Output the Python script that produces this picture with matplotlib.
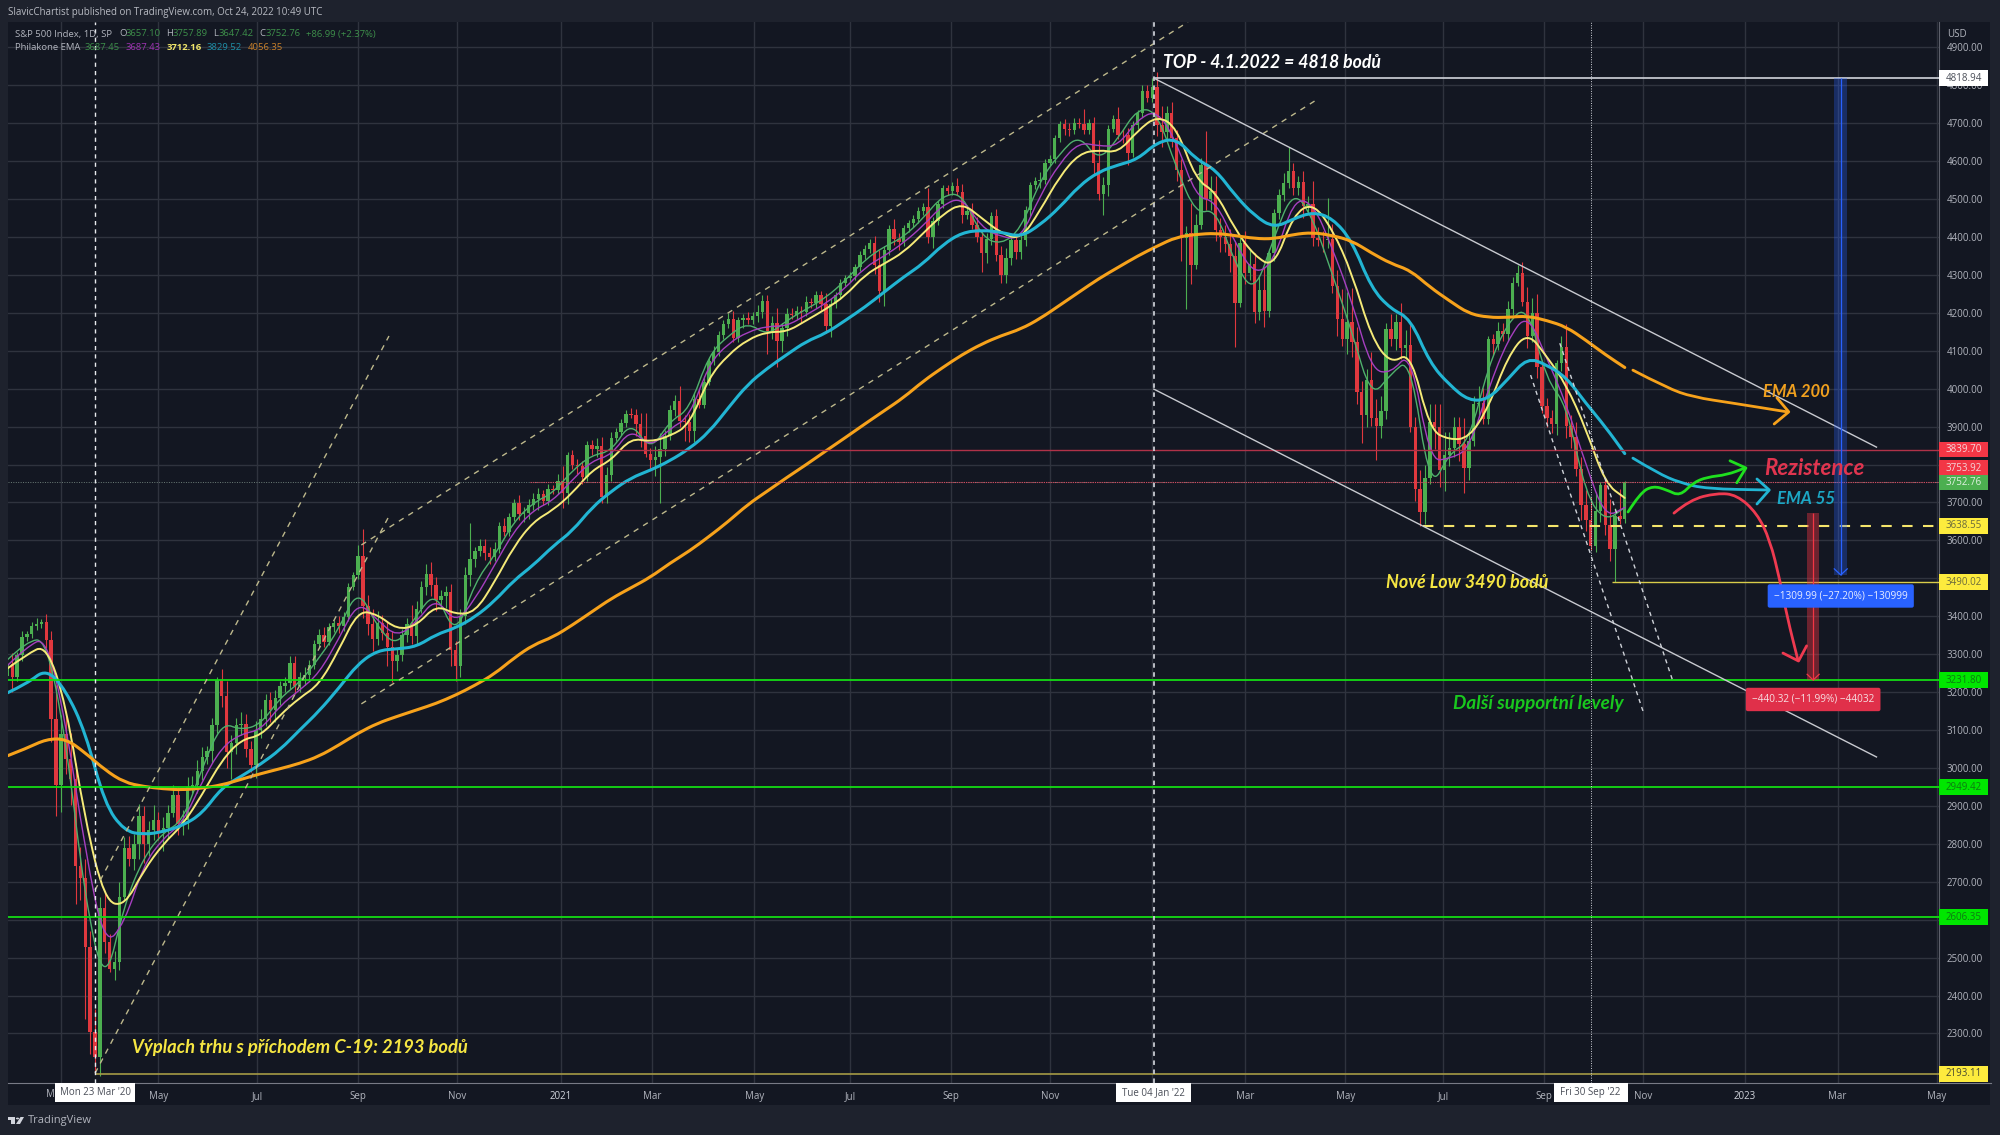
import pandas as pd
import matplotlib
matplotlib.use("Agg")
import matplotlib.pyplot as plt
from matplotlib.patches import Rectangle, Polygon, Circle, PathPatch
from matplotlib.path import Path

ORIGIN = pd.Timestamp("2020-03-23")

first_open = 3243
# 3 day candles, first one on 29 Jan 2020
closes = [
    3273, 3240, 3297, 3345, 3352, 3374, 3380, 3386, 3337, 3128,
    2954, 3090, 3023, 2972, 2741, 2711, 2529, 2305, 2237, 2630,
    2541, 2471, 2488, 2660, 2790, 2761, 2800, 2874, 2799, 2836,
    2863, 2830, 2842, 2882, 2929, 2852, 2864, 2950, 2955, 2992,
    3030, 3044, 3112, 3232, 3190, 3041, 3067, 3113, 3117, 3050,
    3009, 3100, 3130, 3179, 3152, 3185, 3215, 3224, 3276, 3215,
    3239, 3246, 3271, 3327, 3351, 3333, 3373, 3381, 3375, 3397,
    3478, 3508, 3560, 3426, 3380, 3339, 3383, 3357, 3320, 3281,
    3298, 3351, 3380, 3348, 3419, 3477, 3512, 3483, 3443, 3453,
    3465, 3310, 3270, 3400, 3509, 3550, 3573, 3585, 3568, 3557,
    3577, 3638, 3622, 3662, 3699, 3669, 3672, 3694, 3709, 3722,
    3703, 3735, 3732, 3756, 3726, 3824, 3799, 3795, 3768, 3851,
    3841, 3849, 3714, 3773, 3871, 3887, 3909, 3934, 3932, 3906,
    3876, 3829, 3811, 3819, 3842, 3875, 3943, 3968, 3915, 3913,
    3889, 3974, 3958, 4019, 4073, 4097, 4141, 4170, 4185, 4134,
    4180, 4186, 4181, 4192, 4201, 4232, 4152, 4173, 4127, 4159,
    4197, 4195, 4204, 4202, 4229, 4227, 4247, 4223, 4166, 4224,
    4246, 4280, 4291, 4297, 4320, 4352, 4369, 4384, 4327, 4258,
    4367, 4422, 4395, 4387, 4423, 4436, 4448, 4468, 4479, 4400,
    4442, 4486, 4528, 4522, 4535, 4520, 4458, 4469, 4432, 4401,
    4357, 4395, 4455, 4352, 4300, 4345, 4391, 4361, 4391, 4471,
    4536, 4549, 4551, 4596, 4605, 4660, 4697, 4685, 4682, 4700,
    4697, 4682, 4701, 4595, 4513, 4538, 4686, 4712, 4669, 4668,
    4621, 4696, 4726, 4786, 4766, 4796, 4696, 4677, 4726, 4662,
    4577, 4398, 4410, 4327, 4432, 4589, 4500, 4521, 4419, 4401,
    4381, 4349, 4226, 4385, 4306, 4329, 4202, 4260, 4204, 4358,
    4463, 4511, 4543, 4575, 4530, 4545, 4481, 4488, 4397, 4392,
    4391, 4394, 4272, 4183, 4132, 4175, 4123, 3991, 3930, 4023,
    3923, 3901, 3941, 4158, 4132, 4176, 4108, 4115, 3900, 3735,
    3674, 3765, 3911, 3900, 3785, 3825, 3845, 3900, 3854, 3790,
    3863, 3960, 3962, 3921, 4130, 4118, 4152, 4145, 4210, 4280,
    4305, 4228, 4138, 4199, 4057, 3955, 3924, 3908, 4067, 4110,
    3901, 3873, 3789, 3693, 3655, 3585, 3678, 3745, 3640, 3577,
    3665, 3657, 3752.76,
]
wick_up = [
    15, 30, 10, 15, 10, 10, 15, 8, 20, 25,
    90, 50, 60, 70, 40, 50, 50, 40, 60, 30,
    40, 20, 30, 40, 28, 30, 25, 30, 25, 25,
    40, 20, 30, 20, 25, 20, 25, 25, 25, 30,
    25, 15, 20, 8, 30, 40, 20, 20, 30, 25,
    20, 25, 25, 15, 20, 20, 15, 15, 20, 20,
    15, 20, 15, 10, 15, 20, 10, 10, 20, 15,
    10, 10, 28, 70, 30, 40, 30, 20, 30, 40,
    15, 15, 15, 50, 20, 15, 25, 30, 20, 15,
    15, 20, 25, 20, 20, 95, 10, 20, 20, 15,
    20, 10, 20, 10, 10, 20, 15, 15, 15, 15,
    10, 15, 10, 20, 40, 10, 15, 15, 15, 10,
    15, 20, 25, 20, 15, 10, 10, 10, 15, 15,
    30, 60, 15, 30, 40, 15, 15, 15, 40, 15,
    20, 15, 25, 15, 10, 15, 10, 10, 15, 20,
    10, 10, 15, 10, 20, 15, 15, 20, 40, 15,
    15, 15, 15, 15, 15, 10, 10, 10, 30, 15,
    10, 10, 10, 10, 10, 10, 10, 10, 20, 40,
    10, 10, 25, 15, 10, 10, 10, 10, 10, 50,
    10, 10, 10, 10, 10, 20, 20, 15, 20, 20,
    15, 15, 10, 20, 25, 25, 15, 15, 15, 10,
    10, 10, 20, 10, 10, 10, 10, 15, 15, 15,
    15, 40, 10, 15, 60, 20, 10, 10, 30, 15,
    20, 10, 10, 15, 15, 23, 40, 50, 20, 30,
    20, 30, 20, 80, 30, 20, 90, 40, 40, 30,
    30, 40, 40, 20, 30, 40, 30, 40, 60, 10,
    10, 15, 25, 62, 20, 15, 30, 20, 60, 30,
    25, 110, 40, 40, 80, 80, 90, 40, 30, 30,
    75, 50, 40, 15, 40, 20, 50, 40, 60, 25,
    50, 35, 50, 50, 60, 60, 40, 25, 25, 70,
    20, 20, 45, 40, 10, 15, 25, 20, 20, 15,
    20, 30, 40, 40, 50, 20, 20, 20, 10, 30,
    60, 30, 40, 30, 40, 60, 50, 10, 20, 70,
    20, 70, 5,
]
wick_down = [
    10, 40, 10, 15, 10, 10, 10, 10, 20, 60,
    80, 70, 40, 70, 100, 60, 190, 60, 44, 50,
    30, 10, 30, 20, 10, 20, 30, 40, 50, 30,
    25, 20, 50, 30, 10, 30, 30, 25, 15, 20,
    25, 20, 30, 20, 30, 40, 70, 30, 25, 20,
    20, 35, 20, 20, 30, 30, 20, 15, 15, 20,
    15, 20, 15, 10, 10, 15, 10, 15, 20, 15,
    10, 10, 10, 30, 30, 30, 15, 20, 50, 55,
    25, 15, 20, 20, 20, 10, 20, 30, 30, 20,
    30, 40, 40, 30, 20, 30, 20, 15, 20, 20,
    10, 10, 10, 10, 10, 15, 20, 15, 15, 30,
    10, 10, 10, 10, 40, 30, 10, 20, 20, 10,
    15, 20, 15, 15, 15, 10, 10, 10, 10, 30,
    30, 10, 25, 40, 120, 20, 10, 15, 15, 50,
    30, 30, 10, 10, 10, 10, 10, 10, 10, 10,
    10, 20, 10, 10, 15, 15, 60, 20, 70, 30,
    20, 10, 10, 30, 10, 15, 15, 15, 20, 30,
    10, 10, 10, 10, 10, 10, 10, 10, 25, 30,
    40, 15, 15, 20, 10, 10, 10, 10, 10, 15,
    30, 10, 10, 10, 10, 10, 20, 10, 10, 15,
    50, 25, 15, 15, 20, 20, 20, 20, 20, 15,
    15, 10, 20, 10, 10, 10, 10, 15, 15, 10,
    10, 10, 10, 30, 15, 55, 30, 10, 10, 20,
    30, 10, 10, 10, 10, 10, 30, 40, 20, 25,
    30, 60, 188, 50, 10, 10, 30, 30, 30, 40,
    20, 40, 115, 10, 30, 20, 30, 20, 40, 15,
    20, 15, 15, 15, 20, 20, 30, 15, 20, 15,
    30, 20, 20, 45, 20, 40, 40, 30, 72, 30,
    20, 90, 30, 20, 20, 30, 30, 30, 15, 30,
    36, 30, 15, 60, 45, 55, 30, 25, 45, 65,
    30, 15, 35, 15, 15, 30, 15, 20, 20, 15,
    10, 10, 30, 15, 30, 20, 25, 25, 30, 20,
    30, 30, 20, 40, 30, 10, 15, 30, 25, 30,
    87, 15, 10,
]

# EMAs read every 12 days, first value on 29 Jan 2020
ema_200 = [
    3032, 3052, 3076, 3077, 3040, 2995, 2962, 2951, 2945, 2942, 2947, 2955,
    2970, 2985, 2998, 3012, 3031, 3060, 3092, 3118, 3136, 3153, 3170, 3192,
    3218, 3248, 3290, 3325, 3345, 3377, 3412, 3447, 3475, 3503, 3540, 3572,
    3610, 3650, 3695, 3730, 3766, 3800, 3836, 3871, 3907, 3942, 3977, 4020,
    4056, 4090, 4118, 4140, 4157, 4185, 4220, 4255, 4290, 4320, 4350, 4376,
    4400, 4407, 4410, 4404, 4396, 4395, 4407, 4412, 4404, 4390, 4358, 4330,
    4312, 4268, 4232, 4198, 4188, 4188, 4192, 4180, 4163, 4128, 4090, 4056,
]
ema_55 = [
    3198, 3222, 3262, 3205, 3095, 2905, 2834, 2824, 2832, 2848, 2880, 2948,
    2978, 3010, 3048, 3100, 3150, 3210, 3275, 3310, 3314, 3320, 3352, 3369,
    3398, 3440, 3495, 3535, 3585, 3625, 3687, 3730, 3765, 3785, 3810, 3842,
    3885, 3950, 4012, 4054, 4090, 4125, 4146, 4180, 4215, 4255, 4295, 4330,
    4380, 4412, 4418, 4413, 4400, 4432, 4478, 4535, 4572, 4590, 4605, 4650,
    4660, 4605, 4578, 4510, 4456, 4424, 4448, 4466, 4450, 4390, 4265, 4210,
    4185, 4068, 4010, 3968, 3972, 4025, 4082, 4063, 4030, 3962, 3900, 3829,
]
ema_yellow = [
    3262, 3300, 3325, 3170, 2860, 2650, 2635, 2730, 2800, 2850, 2930, 3020,
    3075, 3085, 3140, 3185, 3220, 3310, 3415, 3405, 3365, 3375, 3430, 3405,
    3410, 3490, 3585, 3650, 3680, 3725, 3785, 3812, 3870, 3860, 3875, 3905,
    4030, 4090, 4130, 4150, 4150, 4180, 4210, 4245, 4300, 4330, 4360, 4410,
    4460, 4490, 4450, 4410, 4393, 4470, 4560, 4620, 4630, 4622, 4680, 4720,
    4690, 4550, 4520, 4420, 4350, 4320, 4460, 4490, 4420, 4305, 4135, 4065,
    4098, 3891, 3865, 3870, 3950, 4085, 4150, 4085, 4010, 3895, 3750, 3712,
]
ema_purple = [
    3270, 3320, 3345, 3120, 2780, 2530, 2590, 2745, 2815, 2855, 2965, 3055,
    3090, 3100, 3165, 3205, 3250, 3340, 3440, 3390, 3345, 3385, 3450, 3380,
    3445, 3535, 3625, 3680, 3705, 3760, 3810, 3825, 3895, 3845, 3895, 3925,
    4065, 4120, 4150, 4165, 4165, 4195, 4225, 4265, 4320, 4350, 4385, 4430,
    4485, 4505, 4425, 4400, 4395, 4510, 4595, 4650, 4640, 4640, 4710, 4735,
    4650, 4505, 4495, 4385, 4300, 4335, 4500, 4490, 4370, 4230, 4050, 4040,
    4100, 3810, 3815, 3840, 4000, 4130, 4200, 4080, 3960, 3800, 3660, 3687,
]
ema_green = [
    3285, 3335, 3340, 3075, 2650, 2420, 2640, 2765, 2830, 2860, 3000, 3120,
    3100, 3115, 3185, 3225, 3290, 3365, 3475, 3370, 3320, 3405, 3465, 3345,
    3490, 3560, 3650, 3700, 3725, 3785, 3825, 3835, 3915, 3835, 3915, 3945,
    4090, 4140, 4175, 4140, 4180, 4210, 4240, 4285, 4340, 4375, 4400, 4450,
    4510, 4515, 4400, 4380, 4420, 4550, 4620, 4670, 4600, 4660, 4740, 4730,
    4580, 4460, 4475, 4330, 4250, 4400, 4525, 4450, 4300, 4150, 3975, 4040,
    4080, 3730, 3830, 3860, 4060, 4175, 4220, 4020, 3960, 3720, 3650, 3687,
]

# hand drawn curves, (days after 23 Mar 2020, price)
orange_days = [947, 968, 984, 1008.6, 1042]
orange_prices = [4049, 4002, 3978, 3962, 3939]
orange_head_days = [1035.7, 1043, 1034]
orange_head_prices = [3976, 3939, 3907]
cyan_days = [947, 962, 976, 992.6, 1029.6]
cyan_prices = [3817, 3778, 3752, 3736, 3733]
cyan_head_days = [1023.4, 1031, 1023.4]
cyan_head_prices = [3762, 3733, 3696]
green_days = [944, 951.4, 959.4, 968, 976, 984, 992.6, 1005, 1016]
green_prices = [3675, 3725, 3744, 3733, 3717, 3752, 3767, 3773, 3791]
green_head_days = [1006.8, 1016.6, 1011]
green_head_prices = [3810, 3791, 3752]
red_days = [972.3, 982, 998.8, 1011, 1023.4, 1031.4, 1037.5, 1042, 1048.6]
red_prices = [3672, 3707, 3725, 3720, 3672, 3601, 3496, 3398, 3285]
red_head_days = [1039.4, 1049, 1054]
red_head_prices = [3303, 3282, 3322]

# trend lines: start day, start price, end day, end price
tan_lines = [
    (164, 3588, 673, 4967),
    (164, 3169, 753, 4764),
    (0, 2195, 181, 3664),
    (0, 2678, 181, 4139),
]
white_lines = [
    (652, 4818.94, 1097, 3846),
    (652, 3999, 1097, 3029),
]
steep_lines = [
    (884, 4036, 954, 3140),
    (902, 4120, 972, 3224),
]

green_levels = [3231.80, 2949.42, 2606.35]

y_ticks = list(range(2300, 5000, 100))
x_tick_dates = [
    "2020-03-02", "2020-05-01", "2020-07-01", "2020-09-01", "2020-11-01",
    "2021-01-04", "2021-03-01", "2021-05-03", "2021-07-01", "2021-09-01",
    "2021-11-01", "2022-01-03", "2022-03-01", "2022-05-02", "2022-07-01",
    "2022-09-01", "2022-11-01", "2023-01-03", "2023-03-01", "2023-05-01",
]
x_tick_labels = [
    "", "May", "Jul", "Sep", "Nov", "2021", "Mar", "May", "Jul", "Sep",
    "Nov", "", "Mar", "May", "Jul", "Sep", "Nov", "2023", "Mar", "May",
]

# price scale labels: price, text, box colour, text colour, shift in price units
price_labels = [
    (4818.94, "4818.94", "#ffffff", "#4a4e58", 0),
    (3839.70, "3839.70", "#f23645", "#f4d6da", 0),
    (3753.92, "3753.92", "#f23645", "#f4d6da", 36),
    (3752.76, "3752.76", "#4caf50", "#dff0e0", 0),
    (3638.55, "3638.55", "#fdeb3d", "#6b6a3c", 0),
    (3490.02, "3490.02", "#fdeb3d", "#6b6a3c", 0),
    (3231.80, "3231.80", "#00e600", "#0e7a12", 0),
    (2949.42, "2949.42", "#00e600", "#0e7a12", 0),
    (2606.35, "2606.35", "#00e600", "#0e7a12", 0),
    (2193.11, "2193.11", "#fdeb3d", "#4a4a30", 0),
]
# date box: date, text, half width in days
date_labels = [
    ("2020-03-23", "Mon 23 Mar '20", 24.5),
    ("2022-01-04", "Tue 04 Jan '22", 23),
    ("2022-09-30", "Fri 30 Sep '22", 22.8),
]


def to_day(s):
    return (pd.Timestamp(s) - ORIGIN).days


def fig_x(px):
    return px / 2000


def fig_y(px):
    return 1 - px / 1135


def rounded_line(axes, xs, ys, color, lw, zorder):
    # quadratic curves through the midpoints, so the read values keep no hard corners
    verts = [(xs[0], ys[0])]
    codes = [Path.MOVETO]
    for i in range(1, len(xs) - 1):
        verts += [(xs[i], ys[i]), ((xs[i] + xs[i + 1]) / 2, (ys[i] + ys[i + 1]) / 2)]
        codes += [Path.CURVE3, Path.CURVE3]
    verts.append((xs[-1], ys[-1]))
    codes.append(Path.LINETO)
    axes.add_patch(PathPatch(Path(verts, codes), fill=False, edgecolor=color, lw=lw, capstyle="round",
                             joinstyle="round", zorder=zorder))


BG = "#131722"
MARGIN = "#1e222d"
GRID = "#2f333e"
TEXT = "#b2b5be"
UP = "#4caf50"
DOWN = "#e0383e"
FONT = "Open Sans"
NOTE_FONT = "Lato"

fig = plt.figure(figsize=(20, 11.35), dpi=100, facecolor=MARGIN)
fig.patches.append(Rectangle((fig_x(8), fig_y(1105)), fig_x(1982), 1083 / 1135, transform=fig.transFigure,
                             facecolor=BG, edgecolor="none", figure=fig, zorder=-1))
ax = fig.add_axes([fig_x(8), fig_y(1083), fig_x(1931), 1 - fig_y(1061)], facecolor=BG)
ax.set_xlim(-53.6, 1135.5)
ax.set_ylim(2169.3, 4967)

# candles
days = [-54 + 3 * i for i in range(len(closes))]
opens = [first_open] + closes[:-1]
highs = [max(o, c) + w for o, c, w in zip(opens, closes, wick_up)]
lows = [min(o, c) - w for o, c, w in zip(opens, closes, wick_down)]
colors = [UP if c >= o else DOWN for o, c in zip(opens, closes)]
ax.vlines(days, lows, highs, colors=colors, linewidth=0.8, zorder=3)
ax.bar(days, [abs(c - o) for o, c in zip(opens, closes)], bottom=[min(o, c) for o, c in zip(opens, closes)],
       width=2.1, color=colors, linewidth=0, zorder=3)

# EMAs
ema_days = [-54 + 12 * i for i in range(len(ema_200))]
rounded_line(ax, ema_days, ema_green, "#4fb06c", 1.0, 4)
rounded_line(ax, ema_days, ema_purple, "#a63fc0", 1.0, 4)
rounded_line(ax, ema_days, ema_yellow, "#f5ea78", 1.4, 4)
rounded_line(ax, ema_days, ema_55, "#22b5d3", 2.2, 4)
rounded_line(ax, ema_days, ema_200, "#f7a21b", 2.2, 4)

# levels
for level in green_levels:
    ax.axhline(level, color="#14dc14", lw=1.3, zorder=5)
ax.axhline(3752.76, color="#6d7d78", lw=0.7, ls=(0, (1, 1.5)), zorder=2)
ax.hlines(2193.11, 0, 1135.5, color="#a59a45", lw=1.2, zorder=5)
ax.hlines(4818.94, 652, 1135.5, color="#d1d4dc", lw=1.2, zorder=5)
ax.hlines(3839.70, 309, 1135.5, color="#b03248", lw=1.0, zorder=5)
ax.hlines(3753.92, 268, 1135.5, color="#d9455c", lw=0.8, ls=(0, (1, 1)), zorder=5)
ax.hlines(3490.02, 934, 1135.5, color="#d9cc4a", lw=1.0, zorder=5)
ax.hlines(3638.55, 818, 1135.5, color="#f5e56b", lw=1.5, ls=(0, (5, 5)), zorder=5)

# trend lines
for x0, y0, x1, y1 in tan_lines:
    ax.plot([x0, x1], [y0, y1], color="#bdb88c", lw=1.0, ls=(0, (4, 4)), zorder=5)
for x0, y0, x1, y1 in white_lines:
    ax.plot([x0, x1], [y0, y1], color="#c8cad0", lw=1.0, zorder=5)
for x0, y0, x1, y1 in steep_lines:
    ax.plot([x0, x1], [y0, y1], color="#cfd2d8", lw=1.0, ls=(0, (3, 3)), zorder=5)

ax.axvline(0, color="#e8eaee", lw=1.0, ls=(0, (3, 3)), zorder=5)
ax.axvline(to_day("2022-01-04"), color="#c8cbd2", lw=1.3, ls=(0, (2.5, 2.5)), zorder=5)
ax.axvline(to_day("2022-09-30"), color="#d0d3da", lw=0.7, ls=(0, (1, 1.5)), zorder=5)

# hand drawn arrows
for xs, ys, hx, hy, c in [
    (orange_days, orange_prices, orange_head_days, orange_head_prices, "#f7a21b"),
    (cyan_days, cyan_prices, cyan_head_days, cyan_head_prices, "#22b5d3"),
    (green_days, green_prices, green_head_days, green_head_prices, "#1fe01f"),
    (red_days, red_prices, red_head_days, red_head_prices, "#ef3a50"),
]:
    rounded_line(ax, xs, ys, c, 2.0, 6)
    ax.plot(hx, hy, color=c, lw=2.0, solid_joinstyle="round", solid_capstyle="round", zorder=6)

# measure tools
ax.add_patch(Rectangle((1071, 3508.95), 8, 4818.94 - 3508.95, facecolor="#2962ff", alpha=0.3, edgecolor="none", zorder=6))
ax.vlines(1075, 3508.95, 4818.94, color="#2962ff", lw=0.9, zorder=6)
ax.plot([1071, 1075, 1079], [3525, 3508.95, 3525], color="#2962ff", lw=0.9, zorder=6)
ax.add_patch(Rectangle((1054.3, 3231.8), 7.4, 440.32, facecolor="#f23645", alpha=0.4, edgecolor="none", zorder=6))
ax.vlines(1058, 3231.8, 3672.12, color="#f23645", lw=0.9, zorder=6)
ax.plot([1054.3, 1058, 1061.7], [3247, 3231.8, 3247], color="#f23645", lw=0.9, zorder=6)
ax.text(1075, 3453.5, "\u22121309.99 (\u221227.20%) \u2212130999", color="#e8edff", fontsize=7.2, family=FONT,
        ha="center", va="center", zorder=8, bbox=dict(boxstyle="round,pad=0.62,rounding_size=0.2", fc="#2962ff", ec="none"))
ax.text(1058, 3180.6, "\u2212440.32 (\u221211.99%) \u221244032", color="#f6dfe2", fontsize=7.2, family=FONT,
        ha="center", va="center", zorder=8, bbox=dict(boxstyle="round,pad=0.62,rounding_size=0.2", fc="#e0304a", ec="none"))

# notes on the chart
notes = [
    (657.5, 4859, "TOP - 4.1.2022 = 4818 bodů", "#ffffff", 12.7),
    (23, 2264, "Výplach trhu s příchodem C-19: 2193 bodů", "#f5e642", 13.2),
    (795, 3488, "Nové Low 3490 bodů", "#f5e642", 12.9),
    (836, 3169, "Další supportní levely", "#19c81e", 13.6),
    (1027, 3991, "EMA 200", "#f0a01e", 12),
    (1028, 3789, "Rezistence", "#e0354f", 16),
    (1036, 3709, "EMA 55", "#1ca6c4", 12.2),
]
for x, y, s, c, size in notes:
    ax.text(x, y, s, color=c, fontsize=size, family=NOTE_FONT, style="italic", weight="bold",
            ha="left", va="center", zorder=8)

# axes, ticks, grid
ax.set_axisbelow(True)
ax.grid(True, color=GRID, lw=1.0)
ax.yaxis.tick_right()
ax.set_yticks(y_ticks)
ax.set_yticklabels([f"{v:.2f}" for v in y_ticks], fontsize=7, color=TEXT, family=FONT)
ax.set_xticks([to_day(d) for d in x_tick_dates])
ax.set_xticklabels(x_tick_labels, fontsize=7, color=TEXT, family=FONT)
ax.tick_params(length=0, axis="y", pad=5.5)
ax.tick_params(length=0, axis="x", pad=5.5)
for name in ["top", "left"]:
    ax.spines[name].set_visible(False)
ax.spines["right"].set_color("#5d606b")
ax.spines["bottom"].set_color("#787b86")
for lab in ax.get_xticklabels():
    if lab.get_text() in ("2021", "2023"):
        lab.set_color("#d1d4dc")
# the time axis line runs on under the price scale
ax.plot([1, 1.0269], [0, 0], transform=ax.transAxes, color="#787b86", lw=0.8, clip_on=False)

trans_y = ax.get_yaxis_transform()
trans_x = ax.get_xaxis_transform()
for price, s, fc, tc, shift in price_labels:
    ax.add_patch(Rectangle((1.0, price + shift - 21), 0.0254, 42, transform=trans_y, facecolor=fc, edgecolor="none",
                           clip_on=False, zorder=9))
    ax.text(1.0127, price + shift, s, transform=trans_y, color=tc, fontsize=7, family=FONT, ha="center", va="center",
            clip_on=False, zorder=10)
ax.text(1.0041, 4935, "USD", transform=trans_y, color=TEXT, fontsize=7, family=FONT, ha="left", va="center", clip_on=False)

for d, s, half in date_labels:
    x = to_day(d)
    ax.add_patch(Rectangle((x - half, -0.018), 2 * half, 0.018, transform=trans_x, facecolor="#ffffff", edgecolor="none",
                           clip_on=False, zorder=9))
    ax.text(x, -0.009, s, transform=trans_x, color="#4a4e58", fontsize=7, family=FONT, ha="center", va="center",
            clip_on=False, zorder=10)
# only the first letter of the March 2020 tick shows beside the date box
ax.text(-24.9, -0.0105, "M", transform=trans_x, color=TEXT, fontsize=7, family=FONT, ha="right", va="center", clip_on=False)

# header and legend text
fig.text(fig_x(8), fig_y(12), "SlavicChartist published on TradingView.com, Oct 24, 2022 10:49 UTC",
         color="#b8bbc3", fontsize=7, family=FONT, va="center")
GV = "#3d8f4a"
legend_rows = [
    (15, 34, "S&P 500 Index, 1D, SP", TEXT, "normal"), (119, 34, "O", TEXT, "normal"), (126, 34, "3657.10", GV, "normal"),
    (166, 34, "H", TEXT, "normal"), (173, 34, "3757.89", GV, "normal"), (213, 34, "L", TEXT, "normal"),
    (219, 34, "3647.42", GV, "normal"), (259, 34, "C", TEXT, "normal"), (266, 34, "3752.76", GV, "normal"),
    (306, 34, "+86.99 (+2.37%)", GV, "normal"),
    (15, 48, "Philakone EMA", TEXT, "normal"), (85, 48, "3687.45", GV, "normal"), (126, 48, "3687.43", "#a033b4", "normal"),
    (167, 48, "3712.16", "#f0e56a", "bold"), (207, 48, "3829.52", "#1e8fa8", "normal"), (248, 48, "4056.35", "#c9802a", "normal"),
]
for x, y, s, c, w in legend_rows:
    fig.text(fig_x(x), fig_y(y), s, color=c, fontsize=6.8, family=FONT, weight=w, va="center", zorder=11)

# TradingView mark and name
logo = "#d1d4dc"
fig.patches.append(Polygon([(fig_x(8), fig_y(1117)), (fig_x(15), fig_y(1117)), (fig_x(15), fig_y(1124)), (fig_x(11), fig_y(1124)),
                            (fig_x(11), fig_y(1120)), (fig_x(8), fig_y(1120))], transform=fig.transFigure, fc=logo, ec="none", figure=fig))
fig.patches.append(Circle((fig_x(17.5), fig_y(1118.5)), 0.0008, transform=fig.transFigure, fc=logo, ec="none", figure=fig))
fig.patches.append(Polygon([(fig_x(20.5), fig_y(1117)), (fig_x(24), fig_y(1117)), (fig_x(20), fig_y(1124)), (fig_x(16), fig_y(1124))],
                           transform=fig.transFigure, fc=logo, ec="none", figure=fig))
fig.text(fig_x(28), fig_y(1121), "TradingView", color="#b2b5be", fontsize=8, family=FONT, va="center")

fig.savefig("out.png", dpi=100, facecolor=fig.get_facecolor())
plt.close(fig)
